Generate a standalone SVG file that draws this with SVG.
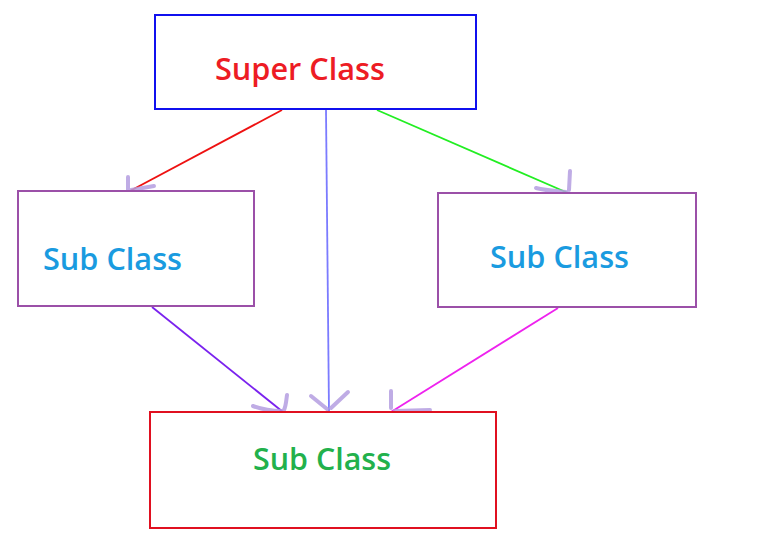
<svg xmlns="http://www.w3.org/2000/svg" width="773" height="556" viewBox="0 0 773 556">
<style>
.box{fill:#fff;stroke-width:2}
.lbl{font-family:"Open Sans","Liberation Sans",Arial,sans-serif;font-weight:600;font-size:31px}
.conn{fill:none;stroke-width:1.8}
.head{fill:none;stroke:#b49ee0;stroke-width:4;stroke-linecap:round;stroke-linejoin:round;opacity:0.85}
</style>
<rect width="773" height="556" fill="#fff"/>
<g id="connectors">
<line class="conn" x1="282" y1="110" x2="130" y2="191" stroke="#ee1111"/>
<line class="conn" x1="326" y1="110" x2="329" y2="412" stroke="#7b7bff"/>
<line class="conn" x1="377" y1="110" x2="568" y2="193" stroke="#22ee22"/>
<line class="conn" x1="152" y1="307" x2="283" y2="412" stroke="#7a22ee"/>
<line class="conn" x1="558" y1="308" x2="391" y2="412" stroke="#ee22ee"/>
<path class="head" d="M128 177 L128 190 M131 190 L154 186"/>
<path class="head" d="M570 171 L569 190 M536 188 C548 191 558 191 566 192"/>
<path class="head" d="M253 406 C264 410 274 411 282 411 M287 395 C286 402 286 406 284 410"/>
<path class="head" d="M311 396 L327 409 M348 392 L331 408"/>
<path class="head" d="M391 391 L391 408 M395 411 L430 410"/>
</g>
<g id="super">
<rect class="box" x="155" y="15" width="321" height="94" stroke="#1010ee"/>
<text class="lbl" x="215" y="80" fill="#ed1c24" textLength="170" lengthAdjust="spacingAndGlyphs">Super Class</text>
</g>
<g id="sub-left">
<rect class="box" x="18" y="191" width="236" height="115" stroke="#9b50a8"/>
<text class="lbl" x="43" y="270" fill="#1a9be0" textLength="139" lengthAdjust="spacingAndGlyphs">Sub Class</text>
</g>
<g id="sub-right">
<rect class="box" x="438" y="193" width="258" height="114" stroke="#9b50a8"/>
<text class="lbl" x="490" y="268" fill="#1a9be0" textLength="139" lengthAdjust="spacingAndGlyphs">Sub Class</text>
</g>
<g id="sub-bottom">
<rect class="box" x="150" y="412" width="346" height="116" stroke="#e01020"/>
<text class="lbl" x="253" y="470" fill="#22b14c" textLength="138" lengthAdjust="spacingAndGlyphs">Sub Class</text>
</g>
</svg>
